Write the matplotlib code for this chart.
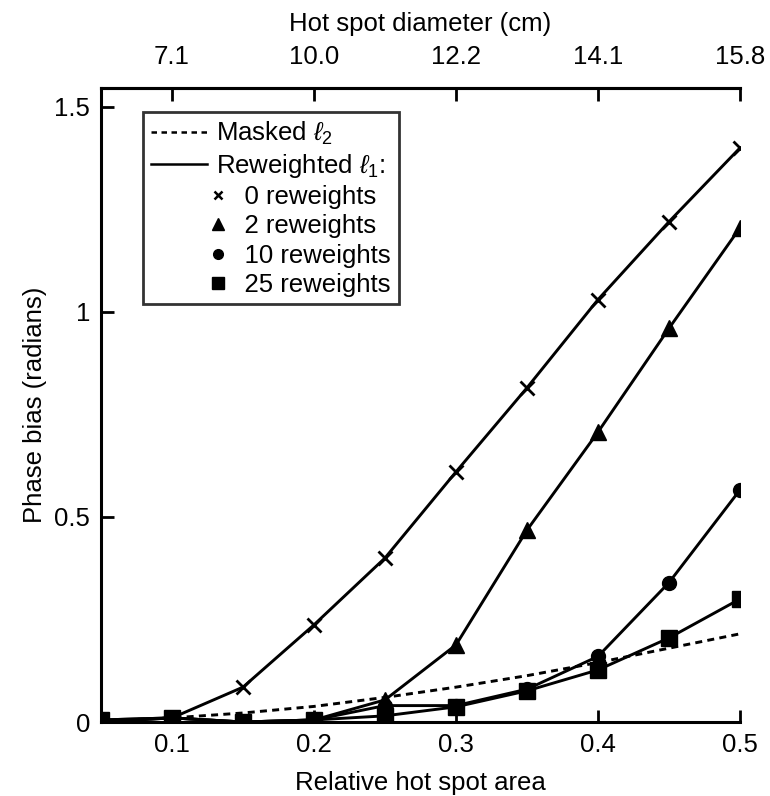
import matplotlib
matplotlib.use("Agg")
import matplotlib.pyplot as plt
from matplotlib.lines import Line2D
from matplotlib.legend_handler import HandlerBase

plt.rcParams['font.family'] = ['Liberation Sans', 'DejaVu Sans']
plt.rcParams['mathtext.fontset'] = 'custom'
plt.rcParams['mathtext.rm'] = 'Liberation Sans'
plt.rcParams['mathtext.it'] = 'Liberation Sans:italic'

# ---- data ----
area = [0.05, 0.10, 0.15, 0.20, 0.25, 0.30, 0.35, 0.40, 0.45, 0.50]
masked_l2 = [0.003, 0.010, 0.022, 0.038, 0.060, 0.085, 0.113, 0.145, 0.180, 0.215]
rw0 = [0.005, 0.010, 0.085, 0.237, 0.400, 0.610, 0.815, 1.030, 1.220, 1.400]
rw2 = [0.000, 0.010, 0.000, 0.005, 0.054, 0.188, 0.468, 0.707, 0.960, 1.205]
rw10 = [0.000, 0.010, 0.000, 0.005, 0.040, 0.040, 0.080, 0.160, 0.340, 0.566]
rw25 = [0.005, 0.010, 0.000, 0.005, 0.015, 0.037, 0.076, 0.127, 0.205, 0.300]

top_ticks = [0.1, 0.2, 0.3, 0.4, 0.5]
top_labels = ['7.1', '10.0', '12.2', '14.1', '15.8']
y_ticks = [0, 0.5, 1, 1.5]
y_labels = ['0', '0.5', '1', '1.5']
x_ticks = [0.1, 0.2, 0.3, 0.4, 0.5]
x_labels = ['0.1', '0.2', '0.3', '0.4', '0.5']

FS = 18.5
LW = 2.1

fig = plt.figure(figsize=(7.7, 7.96), dpi=100)
ax = fig.add_axes([101/770, 1-722/796, (740-101)/770, (722-88)/796])

ax.plot(area, masked_l2, color='black', lw=LW, linestyle=(0, (2.4, 1.8)))
ax.plot(area, rw0, color='black', lw=LW, marker='x', ms=10, mew=2)
ax.plot(area, rw2, color='black', lw=LW, marker='^', ms=12)
ax.plot(area, rw10, color='black', lw=LW, marker='o', ms=10)
ax.plot(area, rw25, color='black', lw=LW, marker='s', ms=12)

ax.set_xlim(0.05, 0.5)
ax.set_ylim(0, 1.546)
ax.set_xticks(x_ticks)
ax.set_xticklabels(x_labels)
ax.set_yticks(y_ticks)
ax.set_yticklabels(y_labels)
ax.tick_params(direction='in', length=9, width=2, labelsize=FS, pad=8)
for s in ['left', 'bottom', 'top']:
    ax.spines[s].set_linewidth(2.2)
ax.spines['right'].set_visible(False)
ax.set_xlabel('Relative hot spot area', fontsize=FS, labelpad=10)
ax.set_ylabel('Phase bias (radians)', fontsize=FS, labelpad=5)

ax2 = ax.twiny()
ax2.set_xlim(ax.get_xlim())
ax2.set_xticks(top_ticks)
ax2.set_xticklabels(top_labels)
ax2.tick_params(direction='in', length=9, width=2, labelsize=FS, pad=14)
ax2.spines['right'].set_visible(False)
ax2.spines['top'].set_linewidth(2.2)
ax2.set_xlabel('Hot spot diameter (cm)', fontsize=FS, labelpad=10)


class MarkerRight(HandlerBase):
    def create_artists(self, legend, orig_handle, xdescent, ydescent,
                       width, height, fontsize, trans):
        m = Line2D([width + 0.4 * fontsize], [height / 2 - ydescent],
                   marker=orig_handle.get_marker(), linestyle='none',
                   color='black', ms=orig_handle.get_markersize(),
                   mew=orig_handle.get_markeredgewidth())
        m.set_transform(trans)
        return [m]


h_dash = Line2D([], [], color='black', lw=1.8, linestyle=(0, (2.2, 1.8)))
h_solid = Line2D([], [], color='black', lw=1.8)
h_x = Line2D([], [], marker='x', ms=6, mew=1.8, linestyle='none', color='black')
h_t = Line2D([], [], marker='^', ms=8, linestyle='none', color='black')
h_o = Line2D([], [], marker='o', ms=7, linestyle='none', color='black')
h_s = Line2D([], [], marker='s', ms=8, linestyle='none', color='black')

handles = [h_dash, h_solid, h_x, h_t, h_o, h_s]
labels = [r'Masked $\ell_2$', r'Reweighted $\ell_1$:', '    0 reweights',
          '    2 reweights', '    10 reweights', '    25 reweights']
hmap = {h_x: MarkerRight(), h_t: MarkerRight(), h_o: MarkerRight(), h_s: MarkerRight()}
leg = ax.legend(handles, labels, loc='upper left', bbox_to_anchor=(0.066, 0.962),
                borderaxespad=0, fontsize=FS, frameon=True, fancybox=False,
                edgecolor='black', handlelength=2.2, handletextpad=0.35,
                labelspacing=0.2, borderpad=0.3, handler_map=hmap)
leg.get_frame().set_linewidth(2)

fig.savefig('out.png', dpi=100)
